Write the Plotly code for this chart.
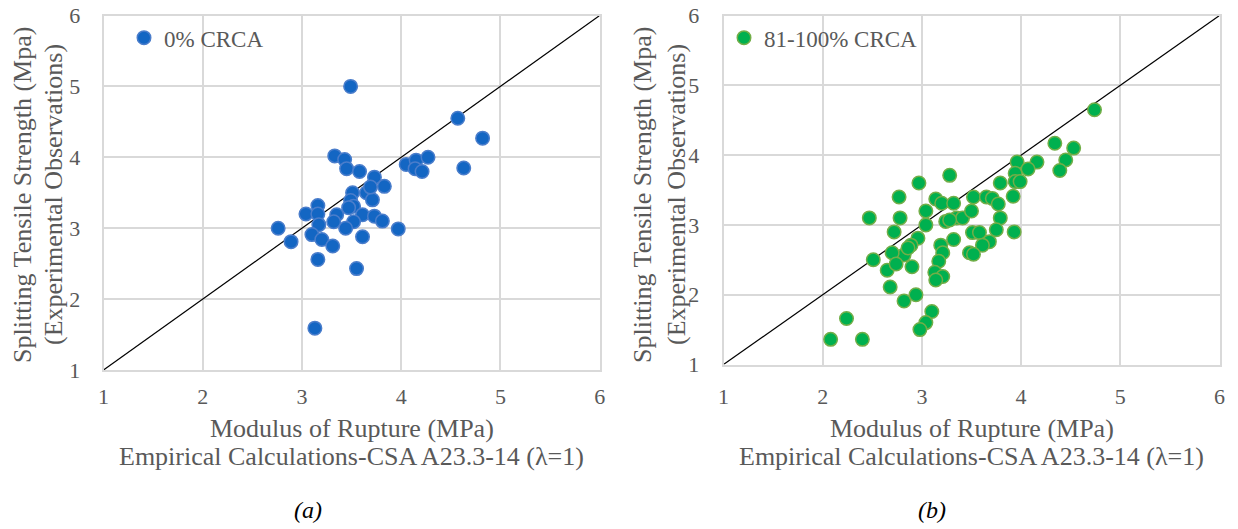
import plotly.graph_objects as go

# ---- data -------------------------------------------------------------
# 0% CRCA: modulus of rupture (calc.) vs splitting tensile strength (exp.)
mor_0 = [3.49, 4.57, 4.82, 4.63, 3.33, 3.43, 3.45, 3.58, 4.05, 4.15, 4.27, 4.14,
         4.21, 3.73, 3.83, 3.65, 3.71, 3.51, 3.49, 3.52, 3.47, 3.16, 3.04, 3.16,
         3.35, 3.32, 3.17, 3.61, 3.52, 3.44, 3.73, 3.81, 3.97, 2.76, 2.89, 3.10,
         3.20, 3.31, 3.61, 3.16, 3.55, 3.13, 3.69]
sts_0 = [5.00, 4.55, 4.27, 3.85, 4.02, 3.97, 3.84, 3.80, 3.90, 3.96, 4.00, 3.84,
         3.80, 3.72, 3.59, 3.50, 3.40, 3.50, 3.39, 3.31, 3.29, 3.32, 3.20, 3.20,
         3.19, 3.09, 3.05, 3.19, 3.09, 3.00, 3.17, 3.10, 2.99, 3.00, 2.81, 2.91,
         2.84, 2.75, 2.88, 2.56, 2.43, 1.59, 3.58]

# 81-100% CRCA
mor_100 = [2.08, 2.24, 2.40, 2.47, 2.51, 2.77, 2.78, 2.72, 2.97, 3.28,
           3.14, 3.20, 3.32, 3.04, 3.04, 2.96, 2.89, 2.82, 2.70, 2.65,
           2.74, 2.90, 2.68, 2.82, 2.94, 3.10, 3.04, 2.98, 3.19, 3.21,
           3.32, 3.17, 3.13, 3.21, 3.14, 3.24, 3.35, 3.41, 3.50, 3.52,
           3.65, 3.71, 3.77, 3.79, 3.79, 3.51, 3.58, 3.75, 3.68, 3.61,
           3.48, 3.52, 3.92, 3.93, 3.96, 3.94, 3.94,
           4.74, 4.34, 4.53, 4.45, 4.39, 4.16, 4.07, 3.99, 2.86, 3.28]
sts_100 = [1.36, 1.66, 1.36, 3.10, 2.50, 3.40, 3.10, 2.90, 3.60, 3.71,
           3.37, 3.31, 3.31, 3.20, 3.00, 2.81, 2.71, 2.57, 2.60, 2.35,
           2.44, 2.40, 2.11, 1.91, 2.00, 1.76, 1.60, 1.50, 2.71, 2.60,
           2.79, 2.48, 2.32, 2.26, 2.21, 3.05, 3.10, 3.10, 3.20, 3.40,
           3.40, 3.38, 3.30, 3.60, 3.10, 2.89, 2.89, 2.93, 2.76, 2.71,
           2.60, 2.58, 3.41, 2.90, 3.90, 3.74, 3.62,
           4.65, 4.17, 4.10, 3.93, 3.78, 3.90, 3.80, 3.62, 2.67, 3.07]

# line of equality (y = x)
equality = [1, 6]
tick_vals = [1, 2, 3, 4, 5, 6]

x_title_1 = "Modulus of Rupture (MPa)"
x_title_2 = "Empirical Calculations-CSA A23.3-14 (λ=1)"
y_title_1 = "Splitting Tensile Strength (Mpa)"
y_title_2 = "(Experimental Observations)"

# ---- styling ----------------------------------------------------------
W, H = 1238, 529
SERIF = "Liberation Serif"
GREY_TXT = "#595959"
GRID = "#D9D9D9"


def px_x(p):
    return p / W


def px_y(p):
    return 1 - p / H


fig = go.Figure()

fig.add_trace(go.Scatter(
    x=equality, y=equality, mode="lines", xaxis="x", yaxis="y",
    line=dict(color="black", width=1.2), showlegend=False, hoverinfo="skip"))
fig.add_trace(go.Scatter(
    x=mor_0, y=sts_0, mode="markers", name="0% CRCA", xaxis="x", yaxis="y",
    legend="legend",
    marker=dict(size=13.5, color="#1366C3", line=dict(color="#4A7DCB", width=1.5))))

fig.add_trace(go.Scatter(
    x=equality, y=equality, mode="lines", xaxis="x2", yaxis="y2",
    line=dict(color="black", width=1.2), showlegend=False, hoverinfo="skip"))
fig.add_trace(go.Scatter(
    x=mor_100, y=sts_100, mode="markers", name="81-100% CRCA", xaxis="x2", yaxis="y2",
    legend="legend2",
    marker=dict(size=13.5, color="#00B04F", line=dict(color="#72AE48", width=1.5))))

axis_common = dict(
    range=[1, 6], tickvals=tick_vals, showgrid=True, gridcolor=GRID, gridwidth=1.5,
    zeroline=False, showline=True, linecolor=GRID, linewidth=1.5, mirror=True,
    automargin=False, ticks="", tickfont=dict(family=SERIF, size=22, color=GREY_TXT),
    fixedrange=True)

left_x = [px_x(103.5), px_x(599.7)]
right_x = [px_x(723.5), px_x(1219.5)]

fig.update_layout(
    width=W, height=H, margin=dict(l=0, r=0, t=0, b=0, autoexpand=False),
    paper_bgcolor="white", plot_bgcolor="white",
    font=dict(family=SERIF, color=GREY_TXT),
    xaxis=dict(domain=left_x, anchor="y", ticklabelstandoff=6, **axis_common),
    yaxis=dict(domain=[px_y(370), px_y(15.5)], anchor="x", ticklabelstandoff=17,
               **axis_common),
    xaxis2=dict(domain=right_x, anchor="y2", ticklabelstandoff=11, **axis_common),
    yaxis2=dict(domain=[px_y(364.5), px_y(15.5)], anchor="x2", ticklabelstandoff=18,
                **axis_common),
    legend=dict(x=px_x(124), y=px_y(37.7), xanchor="left", yanchor="middle",
                bgcolor="rgba(0,0,0,0)", font=dict(family=SERIF, size=23, color=GREY_TXT)),
    legend2=dict(x=px_x(724), y=px_y(37.7), xanchor="left", yanchor="middle",
                 bgcolor="rgba(0,0,0,0)", font=dict(family=SERIF, size=23, color=GREY_TXT)),
)

annotations = []
for cx, y1c, y2c, label, lx in [
    ((103.5 + 599.7) / 2, 23, 54, "(a)", 308),
    ((723.5 + 1219.5) / 2, 643, 677, "(b)", 932),
]:
    annotations += [
        dict(text=x_title_1, x=px_x(cx), y=px_y(428)),
        dict(text=x_title_2, x=px_x(cx), y=px_y(456)),
        dict(text=y_title_1, x=px_x(y1c), y=px_y(195), textangle=-90),
        dict(text=y_title_2, x=px_x(y2c), y=px_y(195), textangle=-90),
        dict(text=f"<i>{label}</i>", x=px_x(lx), y=px_y(510),
             font=dict(family=SERIF, size=24, color="black")),
    ]
for a in annotations:
    a.setdefault("font", dict(family=SERIF, size=26, color=GREY_TXT))
    a.update(xref="paper", yref="paper", xanchor="center", yanchor="middle",
             showarrow=False)
fig.update_layout(annotations=annotations)

fig.write_html("out.html")
